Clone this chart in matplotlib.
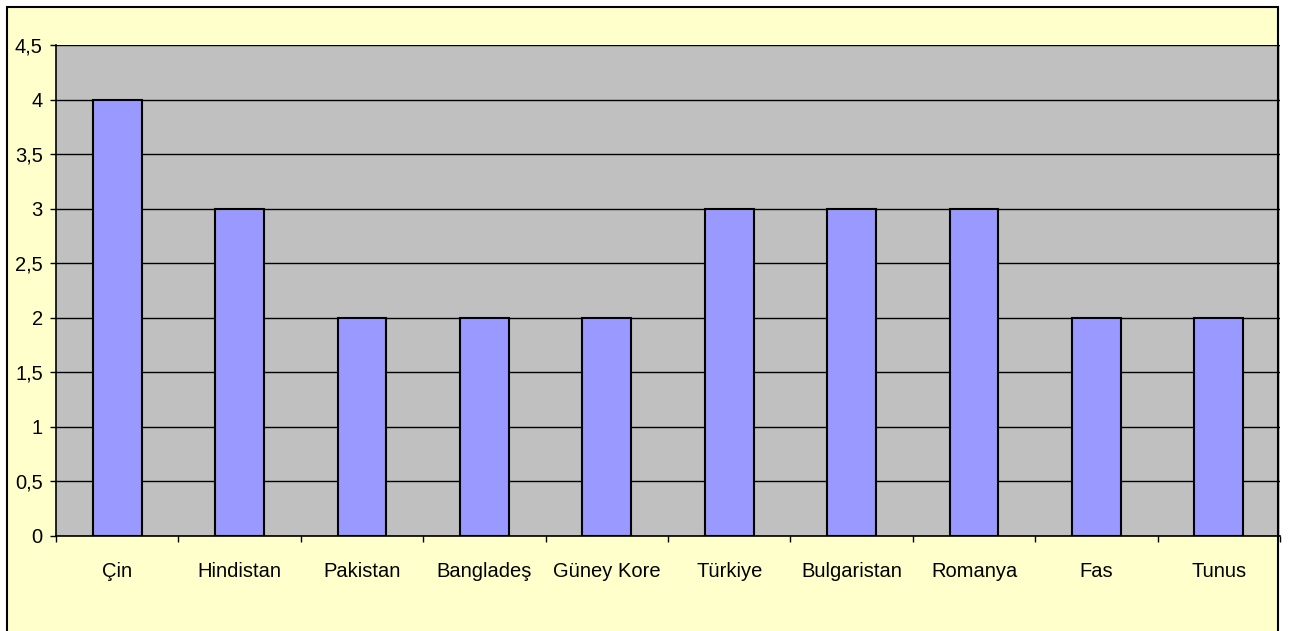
import matplotlib.pyplot as plt
from matplotlib.patches import Rectangle
from matplotlib.ticker import FuncFormatter, MultipleLocator, FixedLocator

countries = ['Çin', 'Hindistan', 'Pakistan', 'Bangladeş', 'Güney Kore',
             'Türkiye', 'Bulgaristan', 'Romanya', 'Fas', 'Tunus']
values = [4, 3, 2, 2, 2, 3, 3, 3, 2, 2]

plt.rcParams['font.family'] = ['Liberation Sans', 'DejaVu Sans']

W, H = 1296, 631
fig = plt.figure(figsize=(W / 100, H / 100), dpi=100, facecolor='white')

# yellow chart area (runs past the bottom edge) and its black frame drawn on top
frame = ((6.5 / W, -0.05), (1277.5 - 6.5) / W, 1 - 6.5 / H + 0.05)
fig.patches.append(Rectangle(*frame, transform=fig.transFigure, facecolor='#FFFFCC',
                             edgecolor='none', zorder=-10))
fig.patches.append(Rectangle(*frame, transform=fig.transFigure, facecolor='none',
                             edgecolor='black', linewidth=1.5, zorder=10))

ax = fig.add_axes([56 / W, 1 - 535.5 / H, (1280 - 56) / W, (535.5 - 45) / H])
ax.set_facecolor('#C0C0C0')

x = range(len(countries))
ax.bar(x, values, width=0.4, color='#9999FF', edgecolor='black', linewidth=1.5, zorder=3)

ax.set_ylim(0, 4.5)
ax.set_xlim(-0.5, len(countries) - 0.5)
ax.yaxis.set_major_locator(MultipleLocator(0.5))
ax.yaxis.set_major_formatter(FuncFormatter(lambda v, p: ('%g' % v).replace('.', ',')))
ax.grid(axis='y', color='black', linewidth=1, zorder=1)
ax.set_axisbelow(True)

ax.set_xticks(list(x))
ax.set_xticklabels(countries)
ax.xaxis.set_minor_locator(FixedLocator([i - 0.5 for i in range(len(countries) + 1)]))
ax.tick_params(axis='x', which='major', length=0, pad=19, labelsize=14.5)
ax.tick_params(axis='x', which='minor', length=4, width=1, direction='out', color='black')
ax.tick_params(axis='y', length=4.5, width=1, direction='out', pad=5, labelsize=14.5)

for s in ['top', 'right']:
    ax.spines[s].set_visible(False)
ax.spines['left'].set_linewidth(1.2)
ax.spines['bottom'].set_linewidth(1.2)

fig.savefig('out.png', dpi=100, facecolor=fig.get_facecolor())
